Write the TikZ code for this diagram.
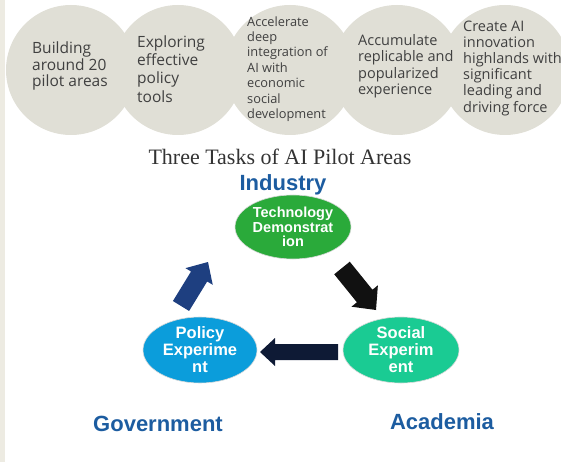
\documentclass[tikz,border=0pt]{standalone}
\usepackage{fontspec}
\setmainfont{Open Sans}
\newfontfamily\arialfont{Liberation Sans}
\newfontfamily\timesfont{Liberation Serif}
\usetikzlibrary{calc,shapes.geometric}

\definecolor{circfill}{RGB}{224,223,214}
\definecolor{stripc}{RGB}{237,235,226}
\definecolor{txtgrey}{RGB}{64,64,64}
\definecolor{labelblue}{RGB}{28,92,160}
\definecolor{techgreen}{RGB}{42,170,58}
\definecolor{policyblue}{RGB}{11,157,219}
\definecolor{socialteal}{RGB}{26,203,147}
\definecolor{arrownavy}{RGB}{30,63,128}
\definecolor{arrowblack}{RGB}{17,17,17}
\definecolor{arrowdark}{RGB}{14,26,53}

\newcommand\blockarrow[6]{%
  % #1 style, #2 tail, #3 tip, #4 shaft half width, #5 head half width, #6 head length
  \coordinate (hb) at ($(#3)!#6!(#2)$);
  \fill[#1] ($(#2)!#4!90:(#3)$) -- ($(hb)!#4!90:(#3)$) -- ($(hb)!#5!90:(#3)$) -- (#3)
     -- ($(hb)!#5!-90:(#3)$) -- ($(hb)!#4!-90:(#3)$) -- ($(#2)!#4!-90:(#3)$) -- cycle;
}

\begin{document}
\begin{tikzpicture}[x=1pt,y=-1pt,
  circ/.style={circle, fill=circfill, minimum size=130pt, inner sep=0pt},
  ctext/.style={anchor=west, align=left, inner sep=0pt, text=txtgrey},
  ell/.style={ellipse, inner sep=0pt, draw=white!70!gray, line width=0.6pt,
     text=white, align=center, font=\arialfont\bfseries\fontsize{16.5}{17}\selectfont},
  role/.style={anchor=base, text=labelblue, font=\arialfont\bfseries\fontsize{22}{25}\selectfont},
]
\useasboundingbox (0,0) rectangle (561,462);
\clip (0,0) rectangle (561,462);
\fill[stripc] (0,0) rectangle (5,462);

% top row of circles
\node[circ] (c1) at (71,70) {};
\node[circ] (c2) at (178,70) {};
\node[circ] (c3) at (290,70) {};
\node[circ] (c4) at (397,70) {};
\node[circ] (c5) at (505,70) {};

\node[ctext, font=\fontsize{15.5}{16.8}\selectfont] (t1) at (32,66) {Building\\around 20\\pilot areas};
\node[ctext, font=\fontsize{15.5}{18.2}\selectfont] (t2) at (137,69) {Exploring\\effective\\policy\\tools};
\node[ctext, font=\fontsize{12.8}{15.4}\selectfont] (t3) at (247,69) {Accelerate\\deep\\integration of\\AI with\\economic\\social\\development};
\node[ctext, font=\fontsize{14.5}{16.5}\selectfont] (t4) at (358,66) {Accumulate\\replicable and\\popularized\\experience};
\node[ctext, font=\fontsize{14.5}{16.2}\selectfont] (t5) at (463,68) {Create AI\\innovation\\highlands with\\significant\\leading and\\driving force};

% title
\node[anchor=base, inner sep=0pt, text=black!80, font=\timesfont\fontsize{22}{24}\selectfont] (title) at (280,165) {Three Tasks of AI Pilot Areas};

% roles
\node[role] (ind) at (283,190) {Industry};
\node[role] (gov) at (158,431) {Government};
\node[role] (aca) at (442,429) {Academia};

% ellipses
\node[ell, fill=techgreen, minimum width=116pt, minimum height=64pt,
      font=\arialfont\bfseries\fontsize{14.5}{14.2}\selectfont] (tech) at (293,227) {Technology\\Demonstrat\\ion};
\node[ell, fill=policyblue, minimum width=114pt, minimum height=66pt] (pol) at (200,350) {Policy\\Experime\\nt};
\node[ell, fill=socialteal, minimum width=116pt, minimum height=66pt] (soc) at (401,350) {Social\\Experim\\ent};

% block arrows
\coordinate (a1t) at (181,306);
\coordinate (a1h) at (208,262);
\coordinate (a2t) at (342,268);
\coordinate (a2h) at (376,310);
\coordinate (a3t) at (338,352);
\coordinate (a3h) at (260,352);
\blockarrow{arrownavy}{a1t}{a1h}{9.5pt}{16pt}{17pt}
\blockarrow{arrowblack}{a2t}{a2h}{10pt}{17pt}{18pt}
\blockarrow{arrowdark}{a3t}{a3h}{8pt}{14pt}{15pt}
\end{tikzpicture}
\end{document}
